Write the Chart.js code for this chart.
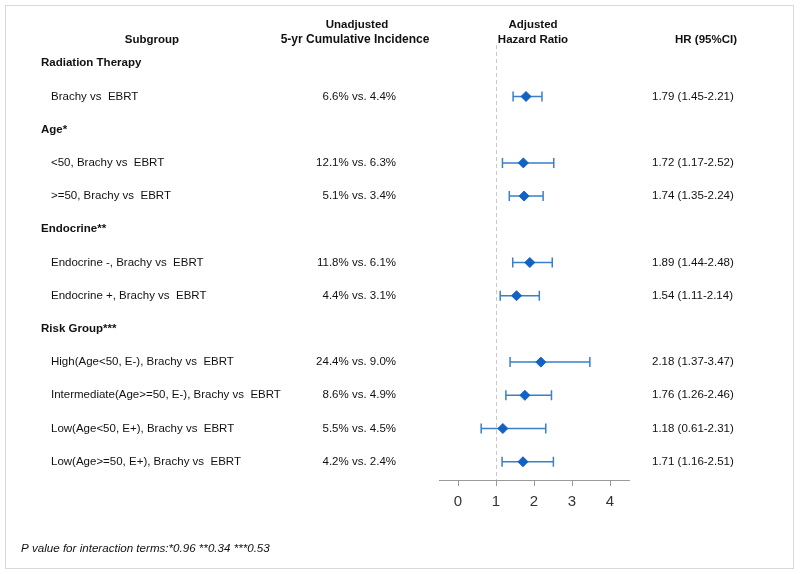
<!DOCTYPE html>
<html>
<head>
<meta charset="utf-8">
<script src="https://cdn.jsdelivr.net/npm/chart.js@4"></script>
<style>
  body { margin: 0; background: #fff; }
  canvas { display: block; }
</style>
</head>
<body>
<canvas id="forest" width="800" height="574"></canvas>
<script>
// rows top to bottom
const subgroups = [
  'Radiation Therapy',
  'Brachy vs  EBRT',
  'Age*',
  '<50, Brachy vs  EBRT',
  '>=50, Brachy vs  EBRT',
  'Endocrine**',
  'Endocrine -, Brachy vs  EBRT',
  'Endocrine +, Brachy vs  EBRT',
  'Risk Group***',
  'High(Age<50, E-), Brachy vs  EBRT',
  'Intermediate(Age>=50, E-), Brachy vs  EBRT',
  'Low(Age<50, E+), Brachy vs  EBRT',
  'Low(Age>=50, E+), Brachy vs  EBRT'
];
const isGroup = [true, false, true, false, false, true, false, false, true, false, false, false, false];
const incidence = ['', '6.6% vs. 4.4%', '', '12.1% vs. 6.3%', '5.1% vs. 3.4%', '',
  '11.8% vs. 6.1%', '4.4% vs. 3.1%', '', '24.4% vs. 9.0%', '8.6% vs. 4.9%', '5.5% vs. 4.5%', '4.2% vs. 2.4%'];
const hr    = [null, 1.79, null, 1.72, 1.74, null, 1.89, 1.54, null, 2.18, 1.76, 1.18, 1.71];
const lower = [null, 1.45, null, 1.17, 1.35, null, 1.44, 1.11, null, 1.37, 1.26, 0.61, 1.16];
const upper = [null, 2.21, null, 2.52, 2.24, null, 2.48, 2.14, null, 3.47, 2.46, 2.31, 2.51];
const xTicks = [0, 1, 2, 3, 4];
const footnote = 'P value for interaction terms:*0.96 **0.34 ***0.53';

const points = [];
hr.forEach((v, i) => { if (v !== null) points.push({ x: v, y: i }); });

const FONT = '"Liberation Sans", Arial, sans-serif';
const markColor = '#1261c4';
const barColor = '#3b7fc8';

const forestPlugin = {
  id: 'forest',
  beforeDraw(chart) {
    const ctx = chart.ctx;
    ctx.save();
    ctx.fillStyle = '#fff';
    ctx.fillRect(0, 0, chart.width, chart.height);
    ctx.strokeStyle = '#d9d9d9';
    ctx.lineWidth = 1;
    ctx.strokeRect(5.5, 5.5, 788, 563);
    ctx.restore();
  },
  beforeDatasetsDraw(chart) {
    const ctx = chart.ctx;
    const xs = chart.scales.x, ys = chart.scales.y;
    const area = chart.chartArea;
    ctx.save();

    // reference line at HR = 1
    const x1 = Math.round(xs.getPixelForValue(1)) + 0.5;
    ctx.strokeStyle = '#c8c8c8';
    ctx.lineWidth = 1;
    ctx.setLineDash([4, 3]);
    ctx.beginPath();
    ctx.moveTo(x1, area.top);
    ctx.lineTo(x1, area.bottom);
    ctx.stroke();
    ctx.setLineDash([]);

    // confidence intervals
    ctx.strokeStyle = barColor;
    ctx.lineWidth = 1.5;
    hr.forEach((v, i) => {
      if (v === null) return;
      const y = ys.getPixelForValue(i);
      const a = xs.getPixelForValue(lower[i]);
      const b = xs.getPixelForValue(upper[i]);
      ctx.beginPath();
      ctx.moveTo(a, y); ctx.lineTo(b, y);
      ctx.moveTo(a, y - 5); ctx.lineTo(a, y + 5);
      ctx.moveTo(b, y - 5); ctx.lineTo(b, y + 5);
      ctx.stroke();
    });

    // headers
    ctx.fillStyle = '#111';
    ctx.textBaseline = 'middle';
    ctx.textAlign = 'center';
    ctx.font = 'bold 11.5px ' + FONT;
    ctx.fillText('Subgroup', 152, 40);
    ctx.fillText('Unadjusted', 357, 25);
    ctx.font = 'bold 12px ' + FONT;
    ctx.fillText('5-yr Cumulative Incidence', 355, 40);
    ctx.font = 'bold 11.5px ' + FONT;
    ctx.fillText('Adjusted', 533, 25);
    ctx.fillText('Hazard Ratio', 533, 40);
    ctx.fillText('HR (95%CI)', 706, 40);

    // rows
    subgroups.forEach((label, i) => {
      const y = ys.getPixelForValue(i);
      ctx.textAlign = 'left';
      if (isGroup[i]) {
        ctx.font = 'bold 11.5px ' + FONT;
        ctx.fillText(label, 41, y);
        return;
      }
      ctx.font = '11.5px ' + FONT;
      ctx.fillText(label, 51, y);
      ctx.textAlign = 'right';
      ctx.fillText(incidence[i], 396, y);
      ctx.textAlign = 'left';
      ctx.fillText(hr[i].toFixed(2) + ' (' + lower[i].toFixed(2) + '-' + upper[i].toFixed(2) + ')', 652, y);
    });

    ctx.font = 'italic 11.6px ' + FONT;
    ctx.textAlign = 'left';
    ctx.fillText(footnote, 21, 549);
    ctx.restore();
  }
};

new Chart(document.getElementById('forest').getContext('2d'), {
  type: 'scatter',
  data: {
    datasets: [{
      label: 'HR',
      data: points,
      pointStyle: 'rectRot',
      pointRadius: 5,
      pointBackgroundColor: markColor,
      pointBorderColor: markColor,
      pointBorderWidth: 1
    }]
  },
  options: {
    responsive: false,
    animation: false,
    layout: { padding: { left: 439, right: 171, top: 45, bottom: 54 } },
    plugins: { legend: { display: false }, tooltip: { enabled: false } },
    scales: {
      x: {
        type: 'linear',
        min: -0.5,
        max: 4.5,
        afterBuildTicks: (s) => { s.ticks = xTicks.map(v => ({ value: v })); },
        afterFit: (s) => { s.height = 40; },
        border: { color: '#9a9a9a', width: 1 },
        grid: { drawOnChartArea: false, drawTicks: true, tickLength: 6, color: '#9a9a9a' },
        ticks: { padding: 7, color: '#333', font: { family: FONT, size: 15 } }
      },
      y: {
        type: 'linear',
        display: false,
        reverse: true,
        min: -0.55,
        max: 12.55
      }
    }
  },
  plugins: [forestPlugin]
});
</script>
</body>
</html>
